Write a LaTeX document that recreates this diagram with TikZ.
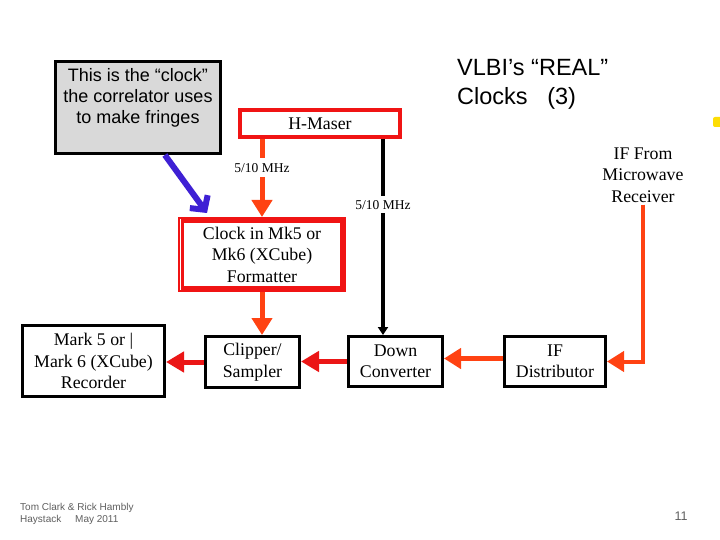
\documentclass[tikz,border=0pt]{standalone}
\usepackage{fontspec}
\setmainfont{Liberation Serif}
\newfontfamily\arialf{Liberation Sans}
\usetikzlibrary{arrows.meta,calc}
\definecolor{boxred}{RGB}{240,20,20}
\definecolor{arrred}{RGB}{235,22,22}
\definecolor{arrorange}{RGB}{255,66,18}
\definecolor{calloutblue}{RGB}{62,32,212}
\definecolor{calloutgray}{RGB}{217,217,217}
\definecolor{footgray}{RGB}{95,95,95}
\tikzset{
  blackbox/.style={draw=black, line width=3pt, fill=white, inner sep=0pt, align=center,
    font=\fontsize{17.8}{21.5}\selectfont},
  redbox/.style={draw=boxred, fill=white, inner sep=0pt, align=center,
    font=\fontsize{17.8}{21.5}\selectfont},
  orangearrow/.style={draw=arrorange, line width=5pt, -{Triangle[width=20pt,length=17pt]}},
  redarrow/.style={draw=arrred, line width=5pt, -{Triangle[width=20pt,length=18pt]}},
  blackarrow/.style={draw=black, line width=4pt, -{Triangle[width=10pt,length=8pt]}},
  lbl/.style={fill=white, inner xsep=2pt, inner ysep=5pt, font=\fontsize{13.5}{15}\selectfont}
}
\begin{document}
\begin{tikzpicture}[x=1pt,y=-1pt]
\useasboundingbox (0,0) rectangle (720,540);
\fill[white] (0,0) rectangle (720,540);

% callout
\node[draw=black, line width=3pt, fill=calloutgray, minimum width=165pt, minimum height=92pt, inner sep=0pt] (callout) at (138,107.5) {};
\node[align=center, font=\arialf\fontsize{18}{21}\selectfont, inner sep=0pt] (callouttext) at (138,98)
  {This is the “clock”\\the correlator uses\\to make fringes};

% title
\node[anchor=north west, align=left, inner sep=0pt, font=\arialf\fontsize{23.5}{29}\selectfont] (title) at (457,59)
  {VLBI’s “REAL”\\Clocks\ \ \ (3)};

% boxes
\node[redbox, line width=4pt, minimum width=160pt, minimum height=27pt] (maser) at (320,123.5) {H-Maser};
\node[redbox, line width=6pt, minimum width=162pt, minimum height=69pt] (clock) at (262,254.5)
  {Clock in Mk5 or\\Mk6 (XCube)\\Formatter};
\draw[white, line width=0.8pt] (180.3,219) -- (180.3,290);
\node[blackbox, minimum width=94pt, minimum height=51pt] (clipper) at (252.5,362) {Clipper/\\Sampler};
\node[blackbox, minimum width=142pt, minimum height=71pt] (recorder) at (93.5,361) {Mark 5 or |\\Mark 6 (XCube)\\Recorder};
\node[blackbox, minimum width=94pt, minimum height=50pt] (down) at (395.5,361.5) {Down\\Converter};
\node[blackbox, minimum width=101pt, minimum height=50pt] (ifd) at (555,361.5) {IF\\Distributor};
\node[align=center, inner sep=2pt, font=\fontsize{17.8}{21.5}\selectfont] (recv) at (643,175) {IF From\\Microwave\\Receiver};

% connectors
\coordinate (bx) at (383,0);
\draw[orangearrow] (maser.south -| clock.north) -- node[lbl, pos=0.37] (lblA) {5/10 MHz} (clock.north);
\draw[blackarrow] (maser.south -| bx) -- node[lbl, pos=0.335, inner ysep=4pt] (lblB) {5/10 MHz} (down.north -| bx);
\draw[orangearrow] (clock.south) -- (clipper.north -| clock.south);
\draw[redarrow] (clipper.west) -- (recorder.east |- clipper.west);
\draw[redarrow] (down.west) -- (clipper.east |- down.west);
\draw[orangearrow] ([yshift=3pt]ifd.west) -- ([yshift=3pt]down.east);
\draw[orangearrow, line width=4pt] (recv.south) |- (ifd.east);
\draw[calloutblue, line width=6pt, -{Straight Barb[length=10pt,width=22pt]}]
  ($(callout.south west)!0.66!(callout.south east)$) -- ($(clock.north west)+(29,-4)$);

% decorative mark
\fill[yellow!80!orange, rounded corners=2pt] (713,117) rectangle (722,127);

% footer
\node[anchor=north west, align=left, inner sep=0pt, text=footgray, font=\arialf\fontsize{10}{12}\selectfont] (footer) at (20,503)
  {Tom Clark \& Rick Hambly\\Haystack\ \ \ \ \ May 2011};
\node[text=footgray, inner sep=0pt, font=\arialf\fontsize{12.5}{14}\selectfont] (pagenum) at (681,516) {11};
\end{tikzpicture}
\end{document}
